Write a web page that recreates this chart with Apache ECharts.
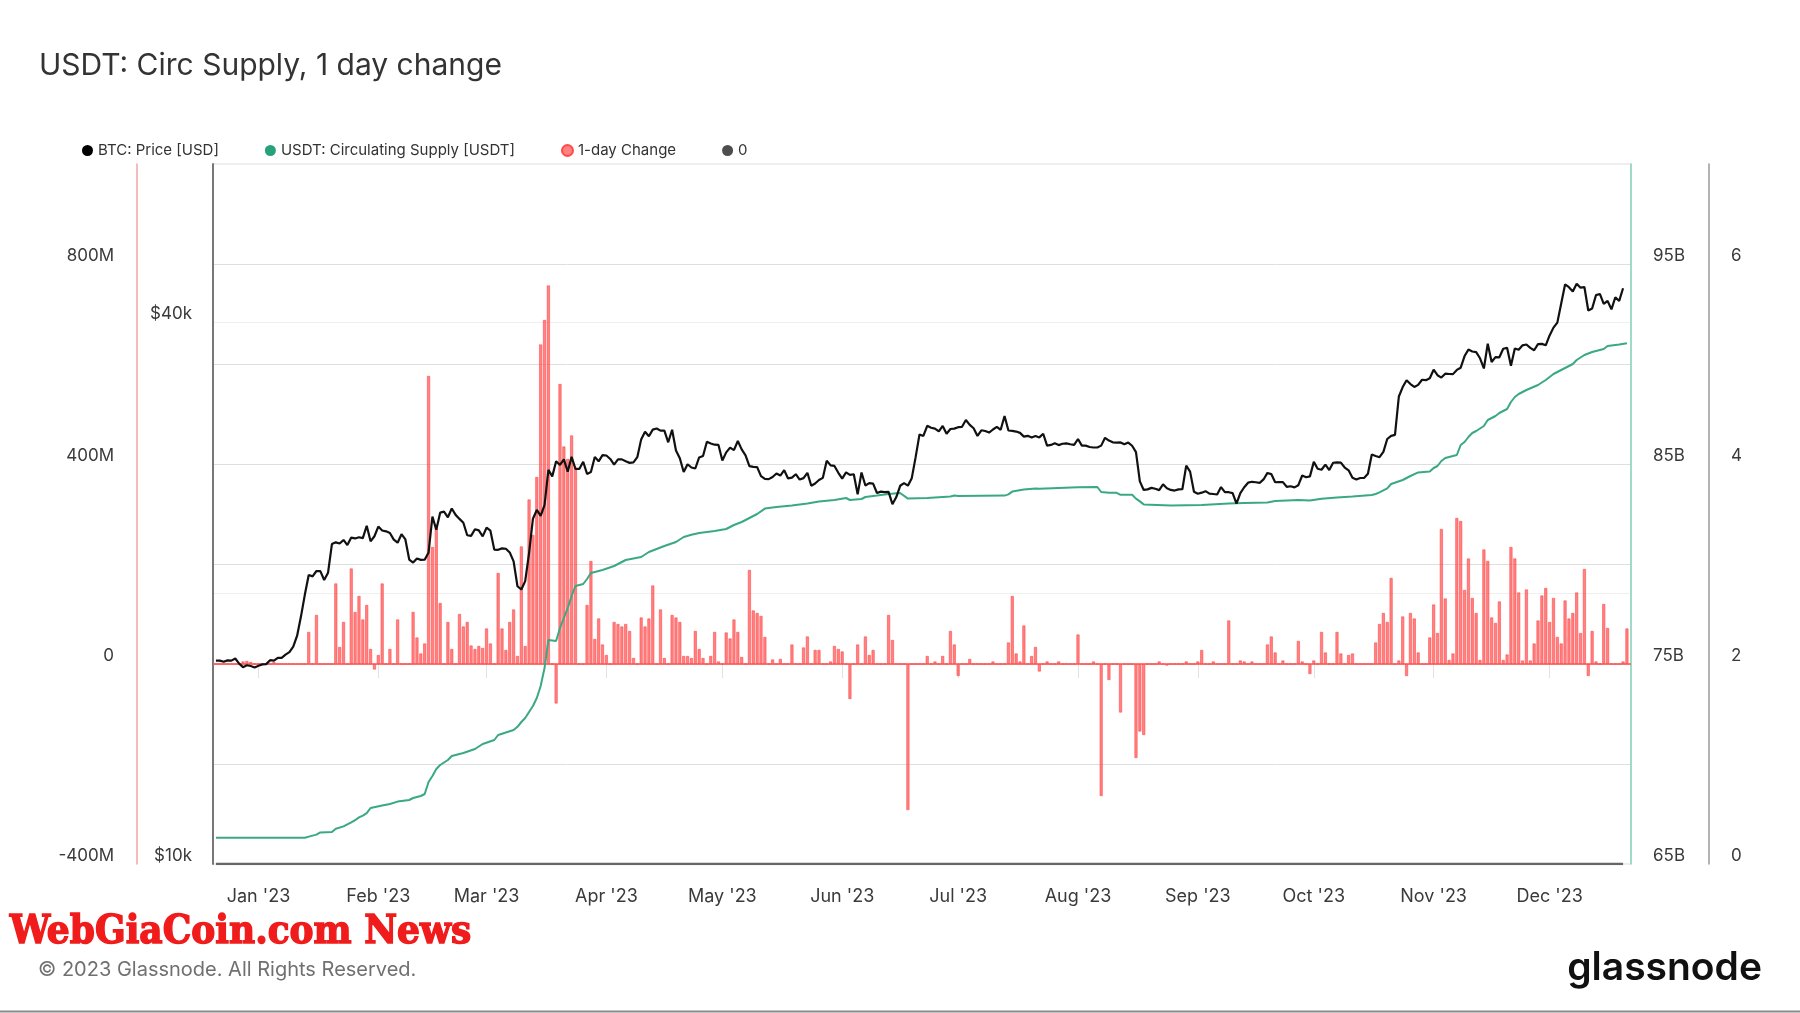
<!DOCTYPE html>
<html><head><meta charset="utf-8">
<script src="https://cdn.jsdelivr.net/npm/echarts@6/dist/echarts.min.js"></script>
<style>html,body{margin:0;padding:0;background:#fff}#c{width:1800px;height:1013px}</style>
</head><body><div id="c"></div>
<script>
// ---- data ----
const DAY = 86400000;
const firstDay = Date.UTC(2022, 11, 21);      // day index 0 = 21 Dec 2022
const axisStart = Date.UTC(2022, 11, 20, 15);
const axisEnd = Date.UTC(2023, 11, 21, 16);
const monthNames = ['Jan','Feb','Mar','Apr','May','Jun','Jul','Aug','Sep','Oct','Nov','Dec'];

// BTC price [USD], daily from 21 Dec 2022 to 20 Dec 2023
const btcPrice = [
  16830,16830,16780,16840,16830,16920,16700,16550,16630,16600,16540,
  16610,16670,16680,16850,16830,16950,16950,17090,17200,17440,17940,18850,19930,20950,20880,21170,21160,20690,21080,22680,22780,22710,22920,22620,23060,23010,23080,23030,23770,22840,23140,
  23720,23480,23430,23330,22940,22760,23260,22950,21800,21630,21860,21780,21790,22200,24330,23530,24580,24640,24290,24840,24440,24190,23950,23200,23160,23560,23490,23130,
  23650,23470,22360,22350,22430,22410,22200,21700,20360,20190,20630,22160,24200,24750,24380,25050,27420,26970,28040,27770,28170,27290,28350,27490,27490,28000,27140,27270,28350,28030,28480,
  28450,28200,27800,28170,28170,28030,27920,27950,28330,29650,30240,29890,30400,30490,30320,30320,29430,30390,28820,28250,27280,27820,27590,27520,28310,28420,29470,29340,29250,29230,
  28090,28680,29030,28850,29530,28900,28460,27690,27630,27620,26990,26800,26780,26930,27170,27030,27400,26830,26890,27120,26750,26850,27220,26330,26480,26720,26870,28080,27740,27700,27220,
  26820,27250,27070,27120,25760,27240,26350,26510,26480,25850,25940,25900,25920,25120,25580,26330,26510,26340,26850,28330,30030,29910,30700,30550,30480,30270,30690,30080,30450,30480,
  30590,30620,31160,30770,30510,29910,30350,30290,30170,30410,30620,30390,31480,30330,30300,30250,30150,29860,29920,29800,29910,29800,30080,29180,29230,29350,29220,29320,29350,29280,29230,
  29680,29180,29180,29080,29040,29040,29180,29770,29560,29430,29400,29420,29280,29410,29170,28700,26630,26050,26090,26190,26130,26040,26430,26160,26050,26010,26090,26100,27720,27300,25930,
  25800,25870,25970,25810,25780,25750,26240,25900,25900,25840,25160,25840,26230,26540,26600,26570,26530,26760,27210,27130,26570,26580,26580,26260,26300,26220,26370,27030,26910,26970,
  27990,27500,27430,27790,27410,27930,27960,27940,27590,27390,26870,26760,26860,26860,27150,28520,28420,28330,28720,29680,29920,29990,33090,33900,34500,34160,33910,34090,34540,34500,34670,
  35440,34940,34730,35080,35050,35040,35420,35620,36700,37310,37130,37070,36490,35550,37880,36150,36600,36580,37390,37480,35800,37420,37290,37720,37800,37480,37250,37830,37860,37720,
  38690,39470,39980,41980,44080,43770,43290,44170,43720,43790,41240,41450,42890,43020,41940,42260,41360,42660,42260,43650
];

// USDT circulating supply [billion USDT] at day indices
const usdtDays = [0,23,24,26,27,30,31,33,35,36,37,38,39,40,43,45,47,50,51,53,54,55,56,57,58,60,61,64,67,69,72,73,77,78,79,80,81,82,83,84,85,86,88,89,90,91,92,93,95,96,97,100,103,106,110,112,114,116,119,121,123,125,129,132,134,136,138,140,142,145,149,153,156,160,163,164,167,168,171,174,177,179,184,190,191,192,204,205,206,209,212,213,223,228,229,231,233,234,237,238,239,240,247,255,262,266,272,274,280,283,286,290,294,299,300,301,302,303,304,307,309,311,314,315,316,317,318,321,322,323,324,325,326,328,329,331,332,334,335,336,337,339,342,344,346,349,351,352,354,356,359,360,363,365];
const usdtSupply = [66.31,66.31,66.37,66.47,66.58,66.6,66.76,66.88,67.08,67.19,67.33,67.42,67.54,67.8,67.92,68.0,68.12,68.2,68.3,68.4,68.5,69.1,69.4,69.75,69.95,70.2,70.4,70.55,70.75,71.0,71.2,71.45,71.7,71.86,72.1,72.3,72.6,72.9,73.3,73.9,74.8,76.2,76.15,76.8,77.3,77.8,78.4,78.9,79.0,79.25,79.55,79.7,79.9,80.2,80.35,80.6,80.75,80.9,81.1,81.35,81.46,81.55,81.65,81.75,81.95,82.1,82.3,82.5,82.77,82.85,82.92,83.02,83.12,83.2,83.3,83.2,83.25,83.35,83.42,83.5,83.55,83.27,83.3,83.38,83.42,83.4,83.42,83.48,83.62,83.72,83.78,83.76,83.84,83.85,83.6,83.56,83.56,83.46,83.46,83.27,83.13,82.98,82.93,82.95,83.03,83.05,83.08,83.15,83.2,83.18,83.26,83.33,83.38,83.45,83.5,83.58,83.68,83.78,84.0,84.2,84.4,84.58,84.62,84.8,84.9,85.15,85.3,85.45,85.95,86.1,86.35,86.55,86.65,86.9,87.2,87.4,87.55,87.75,88.1,88.35,88.5,88.7,88.95,89.2,89.5,89.8,90.0,90.2,90.45,90.6,90.75,90.9,90.98,91.04];

// 1-day change [million USDT], daily from 21 Dec 2022 to 21 Dec 2023
const changeM = [
  0,0,0,0,0,0,0,5,6,4,
  0,0,0,0,0,4,0,0,0,0,
  0,0,0,0,64,0,98,0,0,0,
  0,161,34,84,0,191,104,136,89,118,
  30,-11,18,161,0,30,0,89,0,0,
  0,104,53,21,41,576,234,279,122,0,
  84,30,0,100,75,84,37,30,36,32,
  71,41,0,182,71,28,84,109,16,235,
  36,329,258,374,639,688,757,0,-79,560,
  435,410,457,392,0,0,118,206,50,91,
  39,18,0,84,80,75,80,66,12,0,
  93,75,91,157,0,109,12,0,98,93,
  84,16,16,12,66,30,12,0,16,64,
  5,0,63,51,89,64,14,0,188,107,
  102,96,54,0,9,0,10,0,0,39,
  0,0,33,55,0,28,28,0,0,5,
  36,30,25,0,-70,0,39,0,55,18,
  28,0,0,0,98,48,0,0,0,-292,
  0,0,0,0,16,0,5,0,16,0,
  66,39,-24,0,0,10,0,0,0,0,
  0,5,0,0,0,43,136,21,5,77,
  0,16,34,-15,0,5,0,0,5,0,
  0,0,0,59,0,0,0,5,0,-264,
  0,-32,0,0,-97,0,0,0,-188,-135,
  -142,0,0,0,5,0,-3,0,0,0,
  0,5,0,0,5,28,0,0,5,0,
  0,0,87,0,0,7,5,0,5,0,
  0,0,39,55,23,0,7,0,0,0,
  46,5,0,-20,7,0,64,23,0,0,
  64,21,0,18,21,0,0,0,0,0,
  43,80,102,84,172,0,7,95,-24,102,
  91,23,0,0,53,119,62,270,131,8,
  21,292,286,148,211,132,102,8,229,206,
  93,82,125,8,19,234,211,143,7,149,
  7,41,87,137,152,84,132,54,41,127,
  91,102,143,62,190,-24,66,5,0,120,
  72,0,0,0,5,71
];

// "0" series
const zeroValues = [0, 0];

// ---- build ----
const dayTime = d => firstDay + d * DAY;
const btcData = btcPrice.map((v, i) => [dayTime(i), v]);
const usdtData = usdtDays.map((d, i) => [dayTime(d), usdtSupply[i]]);
const changeData = changeM.map((v, i) => [dayTime(i), v]);
const zeroData = [[dayTime(0), zeroValues[0]], [dayTime(btcPrice.length - 1), zeroValues[1]]];

const FONT = 'Inter, "Noto Sans", sans-serif';
const labelBase = { fontFamily: FONT, fontSize: 17, color: '#3a3a3a', verticalAlign: 'bottom' };

const chart = echarts.init(document.getElementById('c'), null, { renderer: 'canvas' });
chart.setOption({
  animation: false,
  useUTC: true,
  backgroundColor: '#fff',
  title: {
    text: 'USDT: Circ Supply, 1 day change',
    left: 34, top: 46,
    textStyle: { fontFamily: FONT, fontSize: 30, fontWeight: 'normal', color: '#333' }
  },
  legend: {
    left: 77, top: 138,
    icon: 'circle', itemWidth: 11, itemHeight: 11, itemGap: 46,
    textStyle: { fontFamily: FONT, fontSize: 15, color: '#333' },
    data: ['BTC: Price [USD]', 'USDT: Circulating Supply [USDT]', '1-day Change', '0']
  },
  grid: { left: 213, right: 169, top: 164, bottom: 149, show: true, borderColor: '#dcdcdc', borderWidth: 1 },
  xAxis: {
    type: 'time', min: axisStart, max: axisEnd, splitNumber: 12,
    axisLine: { show: false },
    axisTick: { show: true, length: 14, lineStyle: { color: '#e2e2e2', width: 1 } },
    splitLine: { show: false },
    axisLabel: {
      fontFamily: FONT, fontSize: 18, color: '#3a3a3a', margin: 24,
      showMinLabel: false, showMaxLabel: false,
      formatter: function (v) {
        const d = new Date(v);
        if (d.getUTCDate() !== 1 || d.getUTCHours() !== 0) return '';
        return monthNames[d.getUTCMonth()] + " '" + String(d.getUTCFullYear()).slice(2);
      }
    }
  },
  yAxis: [
    { // 1-day change
      type: 'value', position: 'left', offset: 76, min: -400, max: 1000, interval: 200,
      axisLine: { show: true, lineStyle: { color: '#f6a5a5', width: 1.5 } },
      axisTick: { show: false },
      splitLine: { show: true, lineStyle: { color: '#dedede', width: 1 } },
      axisLabel: Object.assign({}, labelBase, { margin: 23,
        formatter: v => (v % 400 === 0 && v < 1000) ? (v === 0 ? '0' : v + 'M') : '' })
    },
    { // BTC price (log)
      type: 'log', logBase: 10, position: 'left', offset: 0, min: 10000, max: 60000, interval: Math.log10(2),
      axisLine: { show: true, lineStyle: { color: '#777', width: 2 } },
      axisTick: { show: false },
      splitLine: { show: true, lineStyle: { color: '#efefef', width: 1 } },
      axisLabel: Object.assign({}, labelBase, { margin: 21,
        formatter: v => { const k = v / 1000; return Math.abs(k - 10) < 0.5 ? '$10k' : (Math.abs(k - 40) < 0.5 ? '$40k' : ''); } })
    },
    { // USDT supply
      type: 'value', position: 'right', offset: 0, min: 65, max: 100, interval: 5,
      axisLine: { show: true, lineStyle: { color: '#86d3bd', width: 1.5 } },
      axisTick: { show: false },
      splitLine: { show: false },
      axisLabel: Object.assign({}, labelBase, { margin: 22,
        formatter: v => ((v - 65) % 10 === 0 && v < 100) ? v + 'B' : '' })
    },
    { // "0" series axis
      type: 'value', position: 'right', offset: 78, min: 0, max: 7, interval: 1,
      axisLine: { show: true, lineStyle: { color: '#9a9a9a', width: 1.5 } },
      axisTick: { show: false },
      splitLine: { show: false },
      axisLabel: Object.assign({}, labelBase, { margin: 22,
        formatter: v => (v % 2 === 0 && v < 7) ? String(v) : '' })
    }
  ],
  series: [
    {
      name: 'BTC: Price [USD]', type: 'line', yAxisIndex: 1, data: btcData,
      showSymbol: false, z: 6,
      itemStyle: { color: '#000' },
      lineStyle: { color: '#111', width: 2.2 }
    },
    {
      name: 'USDT: Circulating Supply [USDT]', type: 'line', yAxisIndex: 2, data: usdtData,
      showSymbol: false, z: 5,
      itemStyle: { color: '#26a17b' },
      lineStyle: { color: '#3aa983', width: 2 }
    },
    {
      name: '1-day Change', type: 'bar', yAxisIndex: 0, data: changeData,
      barWidth: 3, z: 3,
      itemStyle: { color: 'rgba(255,80,80,0.72)', borderColor: 'rgba(255,70,70,0.95)', borderWidth: 0.6 },
      markLine: {
        silent: true, symbol: 'none', label: { show: false },
        lineStyle: { color: '#ff5050', width: 1.5, type: 'solid' },
        data: [{ yAxis: 0 }]
      }
    },
    {
      name: '0', type: 'line', yAxisIndex: 3, data: zeroData,
      showSymbol: false, z: 4,
      itemStyle: { color: '#4d4d4d' },
      lineStyle: { color: '#666', width: 2.5 }
    }
  ],
  graphic: [
    { type: 'text', left: 9, top: 912, z: 10,
      style: { text: 'WebGiaCoin.com News', fill: '#f01c1c', stroke: '#f01c1c', lineWidth: 1.4, fontSize: 40, fontWeight: 'bold', fontFamily: '"DejaVu Serif Condensed", "DejaVu Serif", serif' } },
    { type: 'text', left: 38, top: 960, z: 10,
      style: { text: '\u00A9 2023 Glassnode. All Rights Reserved.', fill: '#707070', fontSize: 20, fontFamily: FONT } },
    { type: 'text', right: 38, top: 949, z: 10,
      style: { text: 'glassnode', fill: '#111', fontSize: 39, fontWeight: 600, fontFamily: FONT } },
    { type: 'line', z: 10, shape: { x1: 0, y1: 1011.5, x2: 1800, y2: 1011.5 }, style: { stroke: '#8a8a8a', lineWidth: 2 } }
  ]
});
</script>
</body></html>
